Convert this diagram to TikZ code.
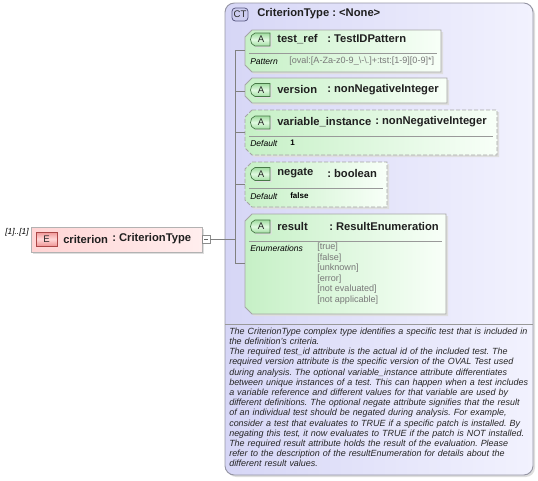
\documentclass[tikz,border=0pt]{standalone}
\usepackage{fontspec}
\setmainfont{Liberation Sans}
\frenchspacing
\definecolor{ctL}{RGB}{214,214,246}
\definecolor{ctR}{RGB}{242,242,254}
\definecolor{ctBorder}{RGB}{150,150,165}
\definecolor{attrL}{RGB}{198,240,198}
\definecolor{attrR}{RGB}{248,255,248}
\definecolor{attrBorder}{RGB}{165,165,165}
\definecolor{badgeAout}{RGB}{160,220,160}
\definecolor{badgeAin}{RGB}{225,250,225}
\definecolor{badgeAline}{RGB}{70,120,70}
\definecolor{elL}{RGB}{255,212,212}
\definecolor{elR}{RGB}{255,238,238}
\definecolor{badgeEout}{RGB}{240,150,150}
\definecolor{badgeEin}{RGB}{255,215,215}
\definecolor{badgeEline}{RGB}{170,70,70}
\definecolor{badgeCT}{RGB}{205,205,240}
\definecolor{badgeCTline}{RGB}{90,90,130}
\definecolor{valgray}{RGB}{120,120,120}
\newcommand\octpath[3]{(252,#2) -- (#1,#2) -- (#1,#3) -- (252,#3) -- (245,{#3-7}) -- (245,{#2+7}) -- cycle}
\newcommand\abadge[2]{%
  \path[fill=black!12,shift={(1.5,1.5)}] (270,{#1-6.5}) -- (255,{#1-6.5}) .. controls (249,{#1-5}) and (249,{#1+5}) .. (255,{#1+6.5}) -- (270,{#1+6.5}) -- cycle;
  \draw[draw=badgeAline, line width=0.5pt, top color=badgeAout, bottom color=badgeAout, middle color=badgeAin]
    (270,{#1-6.5}) -- (255,{#1-6.5}) .. controls (249,{#1-5}) and (249,{#1+5}) .. (255,{#1+6.5}) -- (270,{#1+6.5}) -- cycle;
  \node[badgetxt] (#2) at (261,#1) {A};}
\begin{document}
\begin{tikzpicture}[x=0.75pt,y=-0.75pt,
  hdr/.style={font=\fontsize{8.4}{10}\selectfont\bfseries, anchor=west, inner sep=0pt, text=black!88},
  badgetxt/.style={font=\fontsize{7.2}{8}\selectfont, inner sep=0pt, text=black!85},
  lbl/.style={font=\fontsize{6.4}{8}\selectfont\itshape, anchor=west, inner sep=0pt},
  val/.style={font=\fontsize{6.8}{8}\selectfont, anchor=west, inner sep=0pt, text=valgray},
  attrbox/.style={draw=attrBorder, left color=attrL, right color=attrR, line width=0.6pt},
  optbox/.style={dash pattern=on 3pt off 1.5pt},
  boxshadow/.style={fill=black!13},
  sepline/.style={draw=black!40, line width=0.5pt},
  conn/.style={draw=black!50, line width=0.6pt},
  desc/.style={font=\fontsize{6.72}{7.65}\selectfont\itshape\frenchspacing, anchor=north west, inner sep=0pt, text width=236pt, align=left, text=black!85}
]
\useasboundingbox (0,0) rectangle (538,480);

% complex type container
\path[boxshadow, rounded corners=7pt, shift={(2,2)}] (225,3) rectangle (533,475);
\draw[draw=ctBorder, line width=0.7pt, left color=ctL, right color=ctR, rounded corners=7pt] (225,3) rectangle (533,475);
\draw[draw=badgeCTline, fill=badgeCT, line width=0.6pt, rounded corners=2.5pt] (232,8) rectangle (248,21);
\node[badgetxt] (ctbadge) at (240,14.5) {CT};
\node[hdr] (cttitle) at (257,14) {CriterionType : <None>};
\draw[sepline] (225,324) -- (533,324);

% bus connector
\coordinate (bustop) at (235,50);
\coordinate (busbot) at (235,263);
\coordinate (busin) at (235,239);
\draw[conn] (bustop) -- (busbot);

% test_ref
\path[boxshadow, shift={(2,2)}] \octpath{441}{30}{72};
\draw[attrbox] \octpath{441}{30}{72};
\abadge{39.5}{ba1}
\node[hdr] (n1) at (277,39) {test\_ref};
\node[hdr] (t1) at (327,39) {: TestIDPattern};
\draw[sepline] (249,53) -- (437,53);
\node[lbl] (l1) at (250,61.5) {Pattern};
\node[val] (v1) at (289,61.5) {[oval:[A-Za-z0-9\_\textbackslash-\textbackslash.]+:tst:[1-9][0-9]*]};
\coordinate (a1) at (245,50);
\draw[conn] (bustop) -- (a1);

% version
\path[boxshadow, shift={(2,2)}] \octpath{447}{78}{103};
\draw[attrbox] \octpath{447}{78}{103};
\abadge{90}{ba2}
\node[hdr] (n2) at (277,89.5) {version};
\node[hdr] (t2) at (327,89.5) {: nonNegativeInteger};
\coordinate (a2) at (245,91);
\coordinate (b2) at (235,91);
\draw[conn] (b2) -- (a2);

% variable_instance
\path[boxshadow, shift={(2,2)}] \octpath{497}{110}{155};
\draw[attrbox, optbox] \octpath{497}{110}{155};
\abadge{122.5}{ba3}
\node[hdr] (n3) at (277,122) {variable\_instance};
\node[hdr] (t3) at (375,122) {: nonNegativeInteger};
\draw[sepline] (249,136) -- (493,136);
\node[lbl] (l3) at (250,143.5) {Default};
\node[val, text=black, font=\fontsize{6}{8}\selectfont\bfseries] (v3) at (290,143) {1};
\coordinate (a3) at (245,132);
\coordinate (b3) at (235,132);
\draw[conn] (b3) -- (a3);

% negate
\path[boxshadow, shift={(2,2)}] \octpath{387}{162}{207};
\draw[attrbox, optbox] \octpath{387}{162}{207};
\abadge{174}{ba4}
\node[hdr] (n4) at (277,173.5) {negate};
\node[hdr] (t4) at (327,173.5) {: boolean};
\draw[sepline] (249,188) -- (383,188);
\node[lbl] (l4) at (250,196) {Default};
\node[val, text=black, font=\fontsize{6}{8}\selectfont\bfseries] (v4) at (290,195.5) {false};
\coordinate (a4) at (245,184);
\coordinate (b4) at (235,184);
\draw[conn] (b4) -- (a4);

% result
\path[boxshadow, shift={(2,2)}] \octpath{446}{214}{314};
\draw[attrbox] \octpath{446}{214}{314};
\abadge{226.5}{ba5}
\node[hdr] (n5) at (277,226) {result};
\node[hdr] (t5) at (329,226) {: ResultEnumeration};
\draw[sepline] (249,241) -- (442,241);
\node[lbl] (l5) at (250,248) {Enumerations};
\node[val] (e1) at (317,247.5) {[true]};
\node[val] (e2) at (317,258) {[false]};
\node[val] (e3) at (317,268.5) {[unknown]};
\node[val] (e4) at (317,279) {[error]};
\node[val] (e5) at (317,289.5) {[not evaluated]};
\node[val] (e6) at (317,300) {[not applicable]};
\coordinate (a5) at (245,263);
\draw[conn] (busbot) -- (a5);

% description
\node[desc] (desc) at (229,327.5) {The CriterionType complex type identifies a specific test that is included in\\
the definition's criteria.\\
The required test\_id attribute is the actual id of the included test. The\\
required version attribute is the specific version of the OVAL Test used\\
during analysis. The optional variable\_instance attribute differentiates\\
between unique instances of a test. This can happen when a test includes\\
a variable reference and different values for that variable are used by\\
different definitions. The optional negate attribute signifies that the result\\
of an individual test should be negated during analysis. For example,\\
consider a test that evaluates to TRUE if a specific patch is installed. By\\
negating this test, it now evaluates to TRUE if the patch is NOT installed.\\
The required result attribute holds the result of the evaluation. Please\\
refer to the description of the resultEnumeration for details about the\\
different result values.};

% element criterion
\path[boxshadow, shift={(2,2)}] (31,227) rectangle (202,252);
\draw[draw=black!30, line width=0.6pt, left color=elL, right color=elR] (31,227) rectangle (202,252);
\draw[draw=badgeEline, line width=0.5pt, top color=badgeEout, bottom color=badgeEout, middle color=badgeEin] (36,232) rectangle (57,246);
\node[badgetxt] (ebadge) at (46.5,239) {E};
\node[hdr] (ename) at (63,239) {criterion};
\node[hdr] (etype) at (112,239) {: CriterionType};
\node[font=\fontsize{6.3}{8}\selectfont\itshape, anchor=west, inner sep=0pt] (card) at (5,232.5) {[1]..[1]};
\draw[draw=black!45, fill=white, line width=0.5pt] (202,235) rectangle (210,243);
\draw[black!60, line width=0.5pt] (204,239) -- (208,239);
\coordinate (eout) at (210,239);
\draw[conn] (eout) -- (busin);
\end{tikzpicture}
\end{document}
